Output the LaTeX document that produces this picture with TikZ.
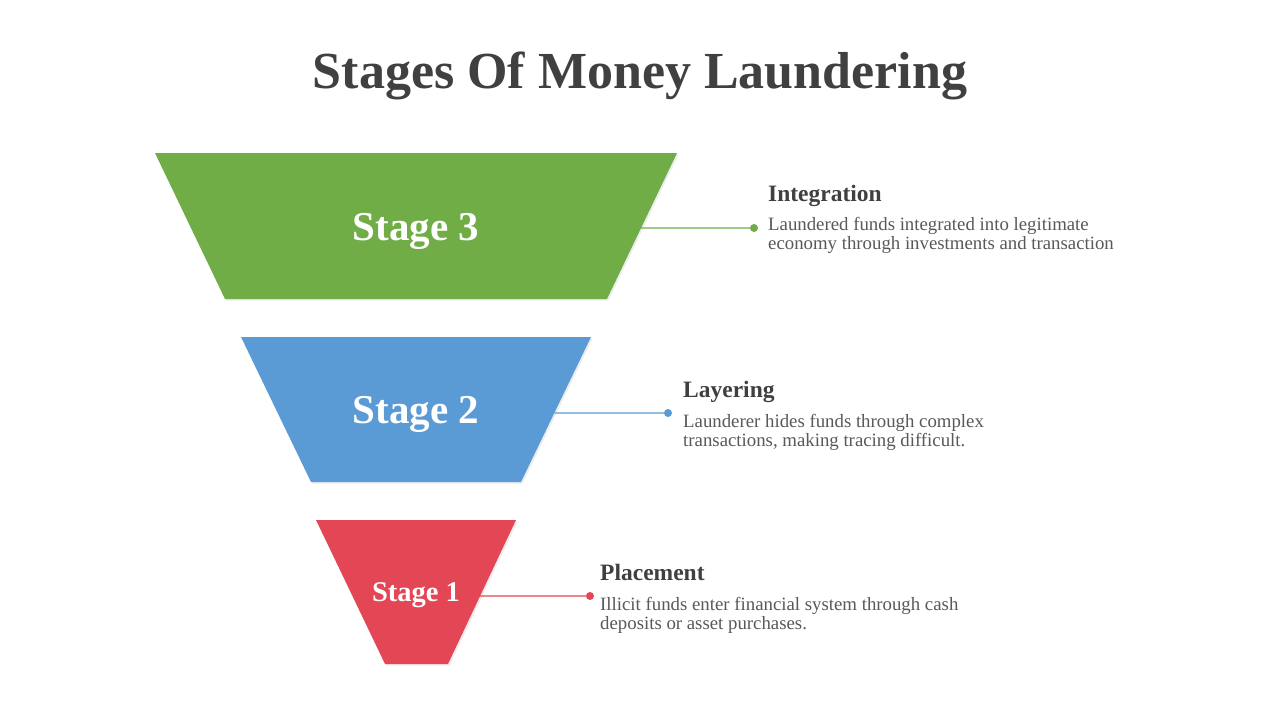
\documentclass[tikz,border=0pt]{standalone}
\usepackage{fontspec}
\setmainfont{Liberation Serif}
\usepackage{tikz}
\usetikzlibrary{positioning,calc,shadows}
\definecolor{stagegreen}{RGB}{112,173,71}
\definecolor{stageblue}{RGB}{91,155,213}
\definecolor{stagered}{RGB}{227,71,85}
\definecolor{darktext}{RGB}{64,64,64}
\definecolor{bodytext}{RGB}{89,89,89}
\tikzset{
  funnel/.style={drop shadow={shadow xshift=1.5pt,shadow yshift=-1.5pt,opacity=0.15}},
  stagetext/.style={white,anchor=base},
  heading/.style={darktext,anchor=base west,inner sep=0pt,font=\fontsize{23.5}{28}\selectfont\bfseries},
  desc/.style={bodytext,anchor=north west,inner sep=0pt,align=left,font=\fontsize{18.8}{19}\selectfont},
  dot/.style={circle,inner sep=0pt,minimum size=8pt},
  link/.style={line width=1.1pt}
}

\begin{document}
\begin{tikzpicture}[x=1pt,y=-1pt]
  \useasboundingbox[fill=white] (0,0) rectangle (1280,720);
  \node[darktext,anchor=base,font=\fontsize{52}{60}\selectfont\bfseries] (title) at (640,88) {Stages Of Money Laundering};
  % stage 3
  \fill[stagegreen,funnel] (155,153) -- (677,153) coordinate (s3b) -- (607,299) coordinate (s3c) -- (225,299) -- cycle;
  \coordinate (s3e) at ($(s3b)!0.514!(s3c)$);
  \node[stagetext,font=\fontsize{41}{48}\selectfont\bfseries] (stage3) at (416,240) {Stage 3};
  \node[dot,fill=stagegreen] (dot3) at (754,228) {};
  \draw[stagegreen,link] (s3e) -- (dot3);
  \node[heading] (integration) at (768,201) {Integration};
  \node[desc] (integrationtext) at (768,217) {Laundered funds integrated into legitimate\\economy through investments and transaction};
  % stage 2
  \fill[stageblue,funnel] (241,337) -- (591,337) coordinate (s2b) -- (521,482) coordinate (s2c) -- (311,482) -- cycle;
  \coordinate (s2e) at ($(s2b)!0.524!(s2c)$);
  \node[stagetext,font=\fontsize{41}{48}\selectfont\bfseries] (stage2) at (416,423) {Stage 2};
  \node[dot,fill=stageblue] (dot2) at (668,413) {};
  \draw[stageblue,link] (s2e) -- (dot2);
  \node[heading] (layering) at (683,397) {Layering};
  \node[desc] (layeringtext) at (683,414) {Launderer hides funds through complex\\transactions, making tracing difficult.};
  % stage 1
  \fill[stagered,funnel] (316,520) -- (516,520) coordinate (s1b) -- (448,664) coordinate (s1c) -- (385,664) -- cycle;
  \coordinate (s1e) at ($(s1b)!0.528!(s1c)$);
  \node[stagetext,font=\fontsize{28.5}{34}\selectfont\bfseries] (stage1) at (416,601) {Stage 1};
  \node[dot,fill=stagered] (dot1) at (590,596) {};
  \draw[stagered,link] (s1e) -- (dot1);
  \node[heading] (placement) at (600,580) {Placement};
  \node[desc] (placementtext) at (600,597) {Illicit funds enter financial system through cash\\deposits or asset purchases.};
\end{tikzpicture}
\end{document}
